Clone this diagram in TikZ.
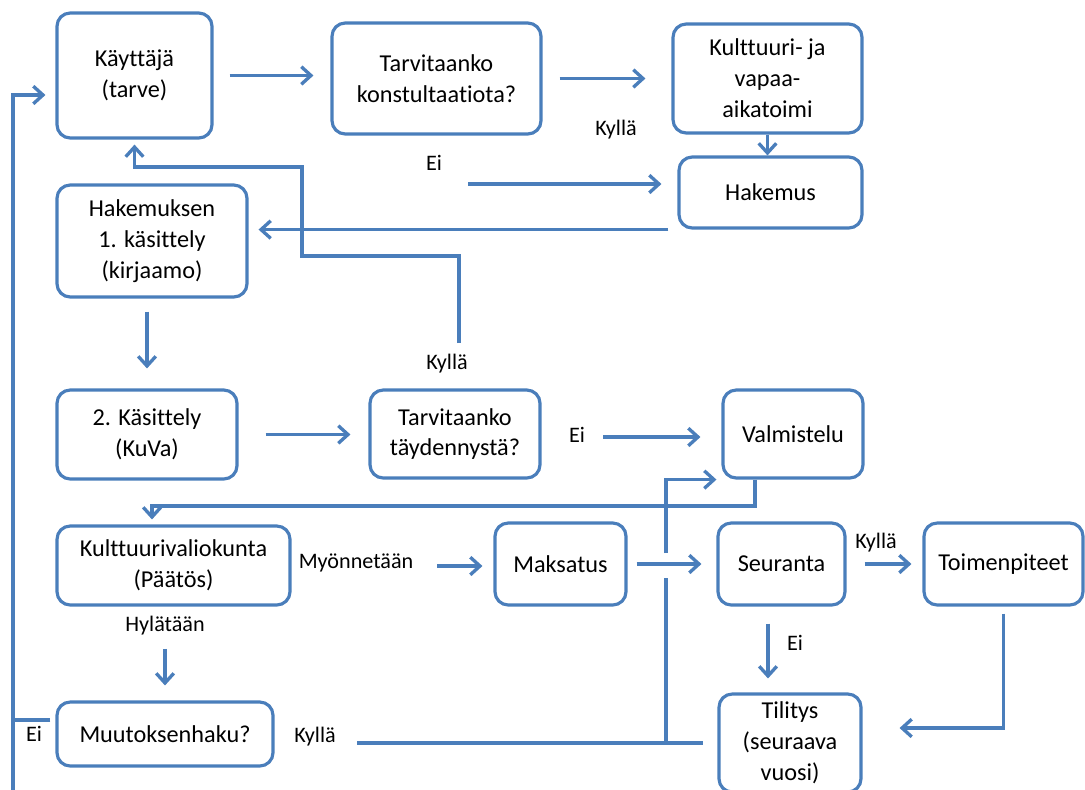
\documentclass[tikz,border=0pt]{standalone}
\usepackage{fontspec}
\setmainfont[Ligatures=NoCommon]{Carlito}
\usetikzlibrary{arrows.meta}
\definecolor{kuvablue}{RGB}{74,126,187}
\tikzset{
	box/.style={draw=kuvablue, line width=1.8pt, rounded corners=7.5pt, fill=white, align=center, inner sep=0pt, font=\fontsize{13.8}{17.6}\selectfont},
	tag/.style={inner sep=0pt, font=\fontsize{12.6}{14}\selectfont},
	flow/.style={draw=kuvablue, line width=1.9pt},
	flowarrow/.style={flow, -{Straight Barb[length=5.5pt,width=10pt]}}
}

\begin{document}
\begin{tikzpicture}[x=0.02cm, y=-0.02cm]
			%%%%% START %%%%%
			
			\useasboundingbox (0, 0) rectangle (1085, 789);
			\fill[white] (0, 0) rectangle (1085, 789);
			
			% laatikot
			\node[box, minimum width=3.10cm, minimum height=2.50cm] (kayttaja) at (134.5, 75.5) {Käyttäjä\\(tarve)};
			\node[box, minimum width=4.18cm, minimum height=2.22cm] (kysy1) at (436.5, 78.5) {Tarvitaanko\\konstultaatiota?};
			\node[box, minimum width=3.78cm, minimum height=2.18cm] (kulttuuri) at (767.5, 78.5) {Kulttuuri- ja\\vapaa-\\aikatoimi};
			\node[box, minimum width=3.66cm, minimum height=1.42cm] (hakemus) at (770.5, 192.5) {Hakemus};
			\node[box, minimum width=3.80cm, minimum height=2.24cm] (kirjaamo) at (152, 241) {Hakemuksen\\1. käsittely\\(kirjaamo)};
			\node[box, minimum width=3.60cm, minimum height=1.78cm] (kuva) at (147, 434.5) {2. Käsittely\\(KuVa)};
			\node[box, minimum width=3.40cm, minimum height=1.76cm] (kysy2) at (455, 434) {Tarvitaanko\\täydennystä?};
			\node[box, minimum width=2.80cm, minimum height=1.76cm] (valmistelu) at (793, 434) {Valmistelu};
			\node[box, minimum width=4.66cm, minimum height=1.58cm] (valiokunta) at (173.5, 565.5) {Kulttuurivaliokunta\\(Päätös)};
			\node[box, minimum width=2.62cm, minimum height=1.64cm] (maksatus) at (560.5, 564) {Maksatus};
			\node[box, minimum width=2.54cm, minimum height=1.64cm] (seuranta) at (781.5, 564) {Seuranta};
			\node[box, minimum width=3.18cm, minimum height=1.64cm] (toimenpiteet) at (1003.5, 564) {Toimenpiteet};
			\node[box, minimum width=4.32cm, minimum height=1.28cm] (muutos) at (165, 734) {Muutoksenhaku?};
			\node[box, minimum width=2.84cm, minimum height=1.96cm] (tilitys) at (790, 743) {Tilitys\\(seuraava\\vuosi)};
			
			% vastaukset
			\node[tag] (kylla1) at (616, 130) {Kyllä};
			\node[tag] (ei1) at (434, 163) {Ei};
			\node[tag] (kylla2) at (447, 364) {Kyllä};
			\node[tag] (ei2) at (577, 435) {Ei};
			\node[tag] (myon) at (356, 563) {Myönnetään};
			\node[tag] (kylla3) at (876, 543) {Kyllä};
			\node[tag] (ei3) at (795, 643) {Ei};
			\node[tag] (hyl) at (165, 626) {Hylätään};
			\node[tag] (kylla4) at (315, 737) {Kyllä};
			\node[tag] (ei4) at (34, 734) {Ei};
			
			\coordinate (eiA) at (468, 184);
			\coordinate (kyA) at (459, 343);
			\coordinate (kyB) at (302, 256);
			\coordinate (kyC) at (302, 167);
			\coordinate (eiB) at (603, 437);
			\coordinate (vkA) at (755, 506);
			\coordinate (vkB) at (152, 506);
			\coordinate (myA) at (437, 566);
			\coordinate (kyD) at (357, 743);
			\coordinate (jn) at (666, 743);
			\coordinate (gapB) at (666, 578);
			\coordinate (gapT) at (666, 553);
			\coordinate (ret) at (13, 95);
			\coordinate (retB) at (13, 800);
			
			% nuolet
			\draw[flowarrow, shorten <=0.32cm, shorten >=0.34cm] (kayttaja.east) -- (kayttaja.east -| kysy1.west);
			\draw[flowarrow, shorten <=0.34cm, shorten >=0.52cm] (kysy1.east) -- (kysy1.east -| kulttuuri.west);
			\draw[flowarrow, shorten >=0.32cm] (eiA) -- (eiA -| hakemus.west);
			\draw[flowarrow] (kulttuuri.south) -- (kulttuuri.south |- hakemus.north);
			\draw[flowarrow, shorten <=0.18cm, shorten >=0.2cm] (hakemus.south west) -- (hakemus.south west -| kirjaamo.east);
			\draw[flowarrow, shorten <=0.26cm, shorten >=0.4cm] (kuva.north |- kirjaamo.south) -- (kuva.north);
			\draw[flowarrow, shorten <=0.54cm, shorten >=0.36cm] (kuva.east) -- (kuva.east -| kysy2.west);
			\draw[flowarrow, shorten >=0.1cm] (kyA) |- (kyB) -- (kyC) -| (kayttaja.south);
			\draw[flowarrow, shorten >=0.42cm] (eiB) -- (eiB -| valmistelu.west);
			\draw[flowarrow, shorten >=0.1cm] (vkA |- valmistelu.south) -- (vkA) -- (vkB) -- (vkB |- valiokunta.north);
			\draw[flowarrow, shorten >=0.22cm] (myA) -- (myA -| maksatus.west);
			\draw[flowarrow, shorten <=0.18cm, shorten >=0.3cm] (maksatus.east) -- (seuranta.west);
			\draw[flowarrow, shorten <=0.36cm, shorten >=0.22cm] (seuranta.east) -- (toimenpiteet.west);
			\draw[flowarrow, shorten <=0.34cm, shorten >=0.28cm] ([xshift=-0.27cm]seuranta.south) -- ([xshift=-0.27cm]seuranta.south |- tilitys.north);
			\draw[flowarrow, shorten <=0.14cm, shorten >=0.74cm] (toimenpiteet.south) |- ([yshift=0.3cm]tilitys.east);
			\draw[flowarrow, shorten <=0.26cm, shorten >=0.3cm] (hyl.south) -- (hyl.south |- muutos.north);
			
			\draw[flow, shorten >=0.28cm] (kyD) -- (kyD -| tilitys.west);
			\draw[flow] (jn) -- (gapB);
			\draw[flowarrow, shorten >=0.1cm] (gapT) |- (valmistelu.south west);
			
			\draw[flow, shorten <=0.1cm] ([yshift=0.28cm]muutos.west) -- ([yshift=0.28cm]muutos.west -| ret);
			\draw[flowarrow, shorten >=0.2cm] (retB) -- (ret) -- (ret -| kayttaja.west);
			
			%%%%% END %%%%%
\end{tikzpicture}
\end{document}
